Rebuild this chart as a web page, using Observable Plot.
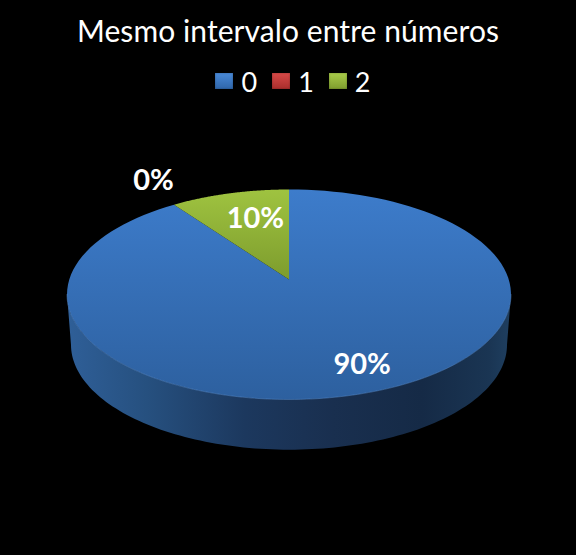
<!DOCTYPE html>
<html><head><meta charset="utf-8">
<script src="https://cdn.jsdelivr.net/npm/d3@7"></script>
<script src="https://cdn.jsdelivr.net/npm/@observablehq/plot@0.6"></script>
<style>
html,body{margin:0;padding:0;background:#000;width:576px;height:555px;overflow:hidden}
#title{height:60px;text-align:center;color:#fff;font:30px/60px Lato,sans-serif;white-space:nowrap;letter-spacing:0.08px}
#legend{height:45px;box-sizing:border-box;padding:0 0 3px 10px;display:flex;justify-content:center;align-items:center;color:#fff;font:27px Lato,sans-serif}
#legend .item{display:flex;align-items:center;margin:0 7.5px}
#legend i{display:block;width:18px;height:16px;margin-right:8px;box-shadow:inset 0 0 2px rgba(0,0,0,.35)}
#chart svg{display:block}
</style></head><body>
<div id="title"></div><div id="legend"></div><div id="chart"></div>
<script>
const titleText = "Mesmo intervalo entre números";
const categories = ["0", "1", "2"];
const shares = [90, 0, 10];
const swatchTop = ["#4a8ad8", "#d84a48", "#a9cc4a"];
const swatchBottom = ["#2f66aa", "#a92e2c", "#7f9e2e"];
const labelAngleNudge = [-4, 3, 3.4];
const labelReach = [0.88, 1.12, 0.6];

document.getElementById("title").textContent = titleText;
const lg = d3.select("#legend");
categories.forEach((c, i) => {
  const it = lg.append("div").attr("class", "item");
  it.append("i").style("background", `linear-gradient(${swatchTop[i]},${swatchBottom[i]})`);
  it.append("span").text(c);
});

// Unit-disc model: the pie's centre sits a little above the ellipse middle (perspective)
const W = 576, H = 450, RX = 222, RY = 105, CX = 288.5, CY = 189;
const apexV = 0.143, wallScale = 0.982, wallDrop = 0.478;
const rad = d => d * Math.PI / 180;
function rim(deg) {
  const dx = Math.sin(rad(deg)), dy = Math.cos(rad(deg));
  const b = apexV * dy, s = -b + Math.sqrt(b * b - apexV * apexV + 1);
  return {u: s * dx, v: apexV + s * dy, s};
}
function slice(a0, a1) {
  const pts = [{u: 0, v: apexV}];
  for (let i = 0; i <= 120; ++i) { const r = rim(a0 + (a1 - a0) * i / 120); pts.push({u: r.u, v: r.v}); }
  pts.push({u: 0, v: apexV});
  return pts;
}
const total = d3.sum(shares);
let acc = 0;
const slices = shares.map((v, i) => {
  const a0 = acc / total * 360; acc += v; const a1 = acc / total * 360;
  return {i, v, a0, a1, mid: (a0 + a1) / 2};
});
// Lower half of the top face and the wall under it
const lower = d3.range(0, 121).map(i => { const t = rad(90 + i * 180 / 120); return {u: Math.sin(t), v: Math.cos(t)}; });
const wallLower = lower.map(p => ({u: p.u * wallScale, v: p.v - wallDrop}));
const wall = [...lower, ...wallLower.slice().reverse(), lower[0]];

const labels = slices.map(s => {
  const a = s.mid + labelAngleNudge[s.i], r = labelReach[s.i];
  return {u: r * Math.sin(rad(a)), v: apexV + r * Math.cos(rad(a)), text: Math.round(s.v) + "%"};
});

const defs = () => {
  const d = d3.create("svg:defs");
  const grad = (id, x2, y2, stops) => {
    const g = d.append("linearGradient").attr("id", id).attr("x1", 0).attr("y1", 0).attr("x2", x2).attr("y2", y2);
    stops.forEach(([o, c]) => g.append("stop").attr("offset", o).attr("stop-color", c));
  };
  grad("fblue", 0, 1, [[0, "#3d7ccb"], [1, "#2d609f"]]);
  grad("fgreen", 0, 1, [[0, "#9fc340"], [1, "#7d9c2d"]]);
  grad("fred", 0, 1, [[0, "#c0504d"], [1, "#a03c3a"]]);
  grad("fwall", 1, 0, [[0, "#2f5f98"], [0.18, "#26507f"], [0.4, "#1c385e"], [0.6, "#192f4f"], [0.8, "#152a46"], [0.95, "#1a3553"], [1, "#1f3f60"]]);
  return d.node();
};
const fills = ["url(#fblue)", "url(#fred)", "url(#fgreen)"];

const plot = Plot.plot({
  width: W, height: H, margin: 0,
  style: {background: "#000"},
  x: {axis: null, domain: [-CX / RX, (W - CX) / RX], range: [0, W]},
  y: {axis: null, domain: [CY / RY, (CY - H) / RY], range: [0, H]},
  marks: [
    defs,
    Plot.line(wall, {x: "u", y: "v", fill: "url(#fwall)", stroke: "none"}),
    ...slices.filter(s => s.v > 0).map(s =>
      Plot.line(slice(s.a0, s.a1), {x: "u", y: "v", fill: fills[s.i], stroke: "none"})),
    Plot.line(lower, {x: "u", y: "v", stroke: "#5a8fd0", strokeWidth: 0.8, strokeOpacity: 0.6}),
    Plot.text(labels, {x: "u", y: "v", text: "text", fill: "#fff", fontSize: 29, fontWeight: 700, fontFamily: "Lato, sans-serif"})
  ]
});
document.getElementById("chart").append(plot);
</script></body></html>
